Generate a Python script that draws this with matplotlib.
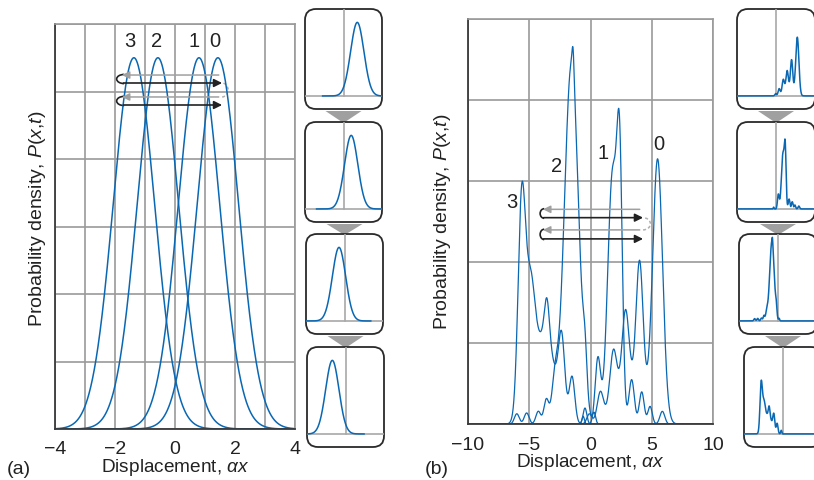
import numpy as np
import matplotlib
matplotlib.use('Agg')
import matplotlib.pyplot as plt
from matplotlib.patches import FancyBboxPatch, Polygon, Arc

plt.rcParams['font.family'] = ['Liberation Sans', 'DejaVu Sans']
plt.rcParams['mathtext.fontset'] = 'custom'
plt.rcParams['mathtext.rm'] = 'Liberation Sans'
plt.rcParams['mathtext.it'] = 'Liberation Sans:italic'

# ---- panel (a): packets after 0,1,2,3 cycles (centre, height, width)
a_labels = ['0', '1', '2', '3']
a_centers = [1.43, 0.80, -0.57, -1.37]
a_heights = [5.5, 5.5, 5.5, 5.5]
a_widths = [0.69, 0.69, 0.69, 0.69]
a_label_x = [1.32, 0.62, -0.62, -1.52]
a_label_y = 5.6
a_ticks = [-4, -3, -2, -1, 0, 1, 2, 3, 4]
a_ticklabels = ['\u22124', '', '\u22122', '', '0', '', '2', '', '4']

# ---- panel (b): peaks (centre, height, width)
b_labels = ['0', '1', '2', '3']
b0_peaks = [(5.47, 3.18, 0.40), (4.0, 1.60, 0.28), (2.85, 0.95, 0.28),
            (1.86, 0.68, 0.28), (0.80, 0.35, 0.25), (-0.1, 0.12, 0.2),
            (3.3, 0.50, 1.2)]
b1_peaks = [(1.80, 3.10, 0.40), (2.38, 2.65, 0.22), (0.60, 0.80, 0.22),
            (3.35, 0.55, 0.22), (4.17, 0.40, 0.20), (4.85, 0.22, 0.18),
            (5.85, 0.16, 0.20), (-0.6, 0.10, 0.10)]
b2_peaks = [(-1.55, 4.45, 0.58), (-1.42, 0.30, 0.08), (-2.90, 0.45, 0.25),
            (-3.60, 0.30, 0.20), (-4.25, 0.16, 0.20), (-5.20, 0.14, 0.20),
            (-6.00, 0.13, 0.20), (-0.45, 0.45, 0.16), (0.30, 0.12, 0.12)]
b3_peaks = [(-5.60, 2.65, 0.30), (-4.90, 1.25, 0.35), (-3.8, 1.10, 0.9),
            (-3.55, 0.50, 0.20), (-2.35, 0.85, 0.25), (-1.50, 0.55, 0.22),
            (-0.45, 0.20, 0.15)]
b_peaks = [b0_peaks, b1_peaks, b2_peaks, b3_peaks]
b_label_x = [5.58, 1.02, -2.75, -6.42]
b_label_y = [3.45, 3.34, 3.18, 2.74]
b_ticks = [-10, -5, 0, 5, 10]
b_ticklabels = ['\u221210', '\u22125', '0', '5', '10']

BLUE = '#0a67b2'
GRID = '#9a9a9a'
DARK = '#3a3a3a'
TXT = '#222222'
FS = 14


def packet(x, peaks):
    y = np.zeros_like(x)
    for c, h, s in peaks:
        y += h * np.exp(-0.5 * ((x - c) / s) ** 2)
    return y


def style_panel(ax, ticks, ticklabels, xlim, ylim):
    ax.set_xlim(xlim)
    ax.set_ylim(ylim)
    ax.set_xticks(ticks)
    ax.set_xticklabels(ticklabels)
    ax.set_yticks(range(ylim[0], ylim[1] + 1))
    ax.set_yticklabels([])
    ax.tick_params(length=0, labelsize=FS, pad=9, colors=TXT)
    ax.grid(True, color=GRID, lw=1.2)
    ax.set_axisbelow(True)
    for s in ['top', 'right']:
        ax.spines[s].set_color(GRID)
        ax.spines[s].set_linewidth(1.2)
    for s in ['left', 'bottom']:
        ax.spines[s].set_color(DARK)
        ax.spines[s].set_linewidth(1.3)
    ax.set_xlabel('Displacement, $\\alpha x$', fontsize=FS - 0.3, color=TXT, labelpad=-1)
    ax.set_ylabel('Probability density, $P(x{,}t)$', fontsize=FS, color=TXT)


def cycle_arrows(ax, xl, xr, ys, loop_rx, curl_rx):
    g1, k1, g2, k2 = ys
    for g, k in [(g1, k1), (g2, k2)]:
        ax.annotate('', xy=(xl, g), xytext=(xr - 0.1 * (xr - xl) / 3, g),
                    arrowprops=dict(arrowstyle='-|>', color='#a0a0a0', lw=1.1,
                                    mutation_scale=11, shrinkA=0, shrinkB=0))
        ax.annotate('', xy=(xr, k), xytext=(xl + 0.05, k),
                    arrowprops=dict(arrowstyle='-|>', color=TXT, lw=1.2,
                                    mutation_scale=12, shrinkA=0, shrinkB=0))
        ax.add_patch(Arc((xl + 0.3 * loop_rx, (g + k) / 2), 2 * loop_rx, (g - k) * 1.15,
                         theta1=90, theta2=270, color=TXT, lw=1.2))
    ax.add_patch(Arc((xr, (k1 + g2) / 2), 2 * curl_rx, (k1 - g2),
                     theta1=-90, theta2=90, color='#b0b0b0', lw=1.1, ls=(0, (2, 1.5))))


W, H = 814, 480
fig = plt.figure(figsize=(W / 100, H / 100), dpi=100)


def px_rect(x0, y0, w, h):
    return [x0 / W, (H - y0 - h) / H, w / W, h / H]


# overlay in pixel units for the inset frames and the arrows between them
over = fig.add_axes([0, 0, 1, 1], zorder=0)
over.set_xlim(0, W)
over.set_ylim(H, 0)
over.axis('off')

# ---- panel (a)
axa = fig.add_axes(px_rect(55, 24, 240, 405), zorder=1)
xa = np.linspace(-4, 4, 800)
for c, h, s in zip(a_centers, a_heights, a_widths):
    axa.plot(xa, packet(xa, [(c, h, s)]), color=BLUE, lw=1.1)
for lab, lx in zip(a_labels, a_label_x):
    axa.text(lx, a_label_y, lab, fontsize=FS + 0.5, ha='center', va='bottom', color=TXT)
style_panel(axa, a_ticks, a_ticklabels, (-4, 4), (0, 6))
axa.yaxis.set_label_coords(-0.03, 0.52)
cycle_arrows(axa, -1.77, 1.57, [5.244, 5.126, 4.919, 4.80], 0.25, 0.2)

# ---- panel (b)
axb = fig.add_axes(px_rect(467.7, 19.3, 245.6, 405), zorder=1)
xb = np.linspace(-10, 10, 2000)
for pk in b_peaks:
    axb.plot(xb, packet(xb, pk), color=BLUE, lw=0.9)
for lab, lx, ly in zip(b_labels, b_label_x, b_label_y):
    axb.text(lx, ly, lab, fontsize=FS + 0.5, ha='center', va='center', color=TXT)
style_panel(axb, b_ticks, b_ticklabels, (-10, 10), (0, 5))
axb.yaxis.set_label_coords(-0.058, 0.5)
cycle_arrows(axb, -3.87, 4.28, [2.654, 2.551, 2.40, 2.289], 0.33, 0.6)

fig.text(19 / W, 1 - 469 / H, '(a)', fontsize=FS, ha='center', va='center', color=TXT)
fig.text(437 / W, 1 - 469 / H, '(b)', fontsize=FS, ha='center', va='center', color=TXT)

# ---- inset strips
box_y0 = [8, 121, 233, 346]
box_h = 102
a_box_x0 = [304, 304, 305, 306]
b_box_x0 = [736, 736, 738, 743]
box_w = [79, 80]


def inset_column(x0s, w, xlim, ylim, curves, xspans):
    for i, (x0, y0) in enumerate(zip(x0s, box_y0)):
        over.add_patch(FancyBboxPatch((x0 + 1, y0 + 1), w - 2, box_h - 2,
                                      boxstyle='round,pad=0,rounding_size=11',
                                      fc='white', ec='#2a2a2a', lw=1.3))
        ia = fig.add_axes(px_rect(x0 + 1, y0 + 1, w - 2, box_h - 2), zorder=2)
        ia.set_facecolor('none')
        ia.set_xlim(xlim)
        ia.set_ylim(ylim)
        ia.axis('off')
        ia.axhline(0, color='#a8a8a8', lw=1.2)
        ia.plot([0, 0], [0, ylim[1] + 1], color='#a8a8a8', lw=1.2)
        xs = np.linspace(xspans[i][0], xspans[i][1], 600)
        ia.plot(xs, packet(xs, curves[i]), color=BLUE, lw=1.1)
        if i < len(x0s) - 1:
            cx = x0s[i + 1] + w / 2
            top = y0 + box_h + 1
            tip = box_y0[i + 1] + 2
            over.add_patch(Polygon([(cx - 18, top), (cx + 18, top), (cx, tip)],
                                   closed=True, fc='#a0a0a0', ec='none'))


a_curves = [[(c, h, s)] for c, h, s in zip(a_centers, a_heights, a_widths)]
a_spans = [(c - 3.6, c + 3.3) for c in a_centers]
inset_column(a_box_x0, box_w[0], (-4, 4), (-0.975, 6.5), a_curves, a_spans)
inset_column(b_box_x0, box_w[1], (-10, 10), (-0.73, 4.85), b_peaks,
             [(-10, 10)] * 4)

fig.savefig('out.png', dpi=100)
